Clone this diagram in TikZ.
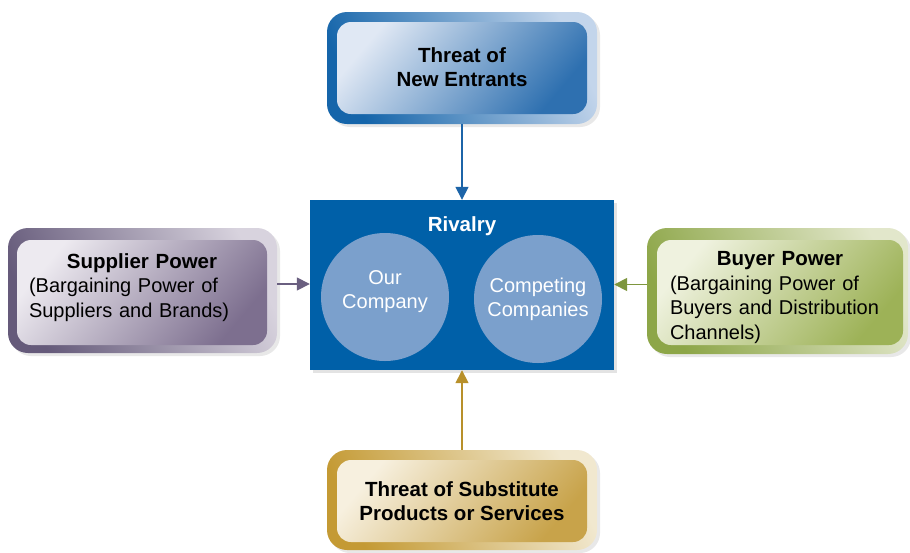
\documentclass[tikz,border=0pt]{standalone}
\usepackage{fontspec}
\setmainfont{Liberation Sans}
\usetikzlibrary{shadows,arrows.meta}
\definecolor{bluedark}{HTML}{1565AA}
\definecolor{bluelight}{HTML}{C3D5EB}
\definecolor{blueinA}{HTML}{E0E8F4}
\definecolor{blueinB}{HTML}{2E70B0}
\definecolor{purpdark}{HTML}{655A7A}
\definecolor{purplight}{HTML}{D8D3DE}
\definecolor{purpinA}{HTML}{EDEAF0}
\definecolor{purpinB}{HTML}{7D6F8F}
\definecolor{grndark}{HTML}{8DA648}
\definecolor{grnlight}{HTML}{E2E7CB}
\definecolor{grninA}{HTML}{EFF2DF}
\definecolor{grninB}{HTML}{9DB257}
\definecolor{golddark}{HTML}{C49A34}
\definecolor{goldlight}{HTML}{F1E8CF}
\definecolor{goldinA}{HTML}{F7F0DF}
\definecolor{goldinB}{HTML}{C8A34A}
\definecolor{rivalblue}{HTML}{0060A8}
\definecolor{circblue}{HTML}{7BA0CC}
\definecolor{arrblue}{HTML}{1C64A8}
\definecolor{arrpurp}{HTML}{6A5F80}
\definecolor{arrgrn}{HTML}{7E963E}
\definecolor{arrgold}{HTML}{B8902A}
\newcommand\boldlbl[1]{{\fontsize{20.5}{24.5}\selectfont\bfseries #1}}
\begin{document}
\begin{tikzpicture}[x=1pt,y=-1pt,
  outerbox/.style={rounded corners=20pt, inner sep=0pt, draw=none,
    drop shadow={opacity=0.18, shadow xshift=3pt, shadow yshift=-3pt}},
  innerbox/.style={rounded corners=14pt, inner sep=0pt, draw=none},
  lbl/.style={inner sep=0pt, font=\fontsize{20}{24.5}\selectfont},
  circ/.style={circle, fill=circblue, inner sep=0pt, minimum size=128pt},
  arr/.style={line width=1.6pt, -{Triangle[length=13pt,width=13pt]}}]
\useasboundingbox (0,0) rectangle (910,552);
% top
\node[outerbox, top color=bluedark, bottom color=bluelight, shading angle=115,
  minimum width=270pt, minimum height=112pt] (topo) at (462,68) {};
\node[innerbox, top color=blueinA, bottom color=blueinB, shading angle=50,
  minimum width=250pt, minimum height=92pt] (topi) at (462,68) {};
\node[lbl, align=center] (topt) at (462,67) {\boldlbl{Threat of}\\\boldlbl{New Entrants}};
% supplier
\node[outerbox, top color=purpdark, bottom color=purplight, shading angle=115,
  minimum width=269pt, minimum height=125pt] (supo) at (142.5,290.5) {};
\node[innerbox, top color=purpinA, bottom color=purpinB, shading angle=50,
  minimum width=250pt, minimum height=105pt] (supi) at (142,292.5) {};
\node[lbl, align=left, text width=226pt] (supt) at (142,287.5)
  {\makebox[226pt]{\boldlbl{Supplier Power}}\\(Bargaining Power of\\Suppliers and Brands)};
% buyer
\node[outerbox, top color=grndark, bottom color=grnlight, shading angle=115,
  minimum width=261pt, minimum height=126pt] (buyo) at (777.5,291) {};
\node[innerbox, top color=grninA, bottom color=grninB, shading angle=50,
  minimum width=246pt, minimum height=105pt] (buyi) at (780,292.5) {};
\node[lbl, align=left, text width=220pt] (buyt) at (780,297.5)
  {\makebox[220pt]{\boldlbl{Buyer Power}}\\(Bargaining Power of\\Buyers and Distribution\\Channels)};
% bottom
\node[outerbox, top color=golddark, bottom color=goldlight, shading angle=115,
  minimum width=270pt, minimum height=100pt] (boto) at (462,500) {};
\node[innerbox, top color=goldinA, bottom color=goldinB, shading angle=50,
  minimum width=250pt, minimum height=82pt] (boti) at (462,501) {};
\node[lbl, align=center] (bott) at (462,501) {\boldlbl{Threat of Substitute}\\\boldlbl{Products or Services}};
% rivalry
\node[fill=rivalblue, inner sep=0pt, minimum width=304pt, minimum height=170pt,
  drop shadow={opacity=0.22, shadow xshift=3pt, shadow yshift=-3pt}] (rival) at (462,285) {};
\node[lbl, text=white] (rivt) at (462,226) {\boldlbl{Rivalry}};
\node[circ] (ourc) at (385,297) {};
\node[lbl, text=white, align=center] (ourt) at (385,291.5) {Our\\Company};
\node[circ] (compc) at (538,299) {};
\node[lbl, text=white, align=center] (compt) at (538,299.5) {Competing\\Companies};
% arrows
\draw[arr, arrblue] (topo.south) -- (rival.north);
\draw[arr, arrgold] (boto.north) -- (rival.south);
\draw[arr, arrpurp] ([yshift=6.5pt]supo.east) -- ([yshift=6.5pt]supo.east -| rival.west);
\draw[arr, arrgrn] ([yshift=6.5pt]buyo.west) -- ([yshift=6.5pt]buyo.west -| rival.east);
\end{tikzpicture}
\end{document}
